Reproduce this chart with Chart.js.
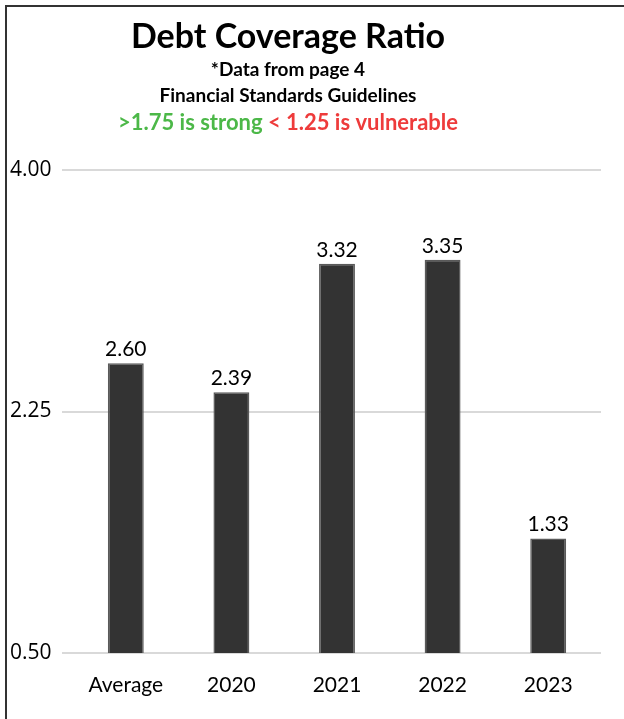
<!DOCTYPE html>
<html>
<head>
<meta charset="utf-8">
<script src="https://cdn.jsdelivr.net/npm/chart.js@4"></script>
<style>
  html, body { margin: 0; padding: 0; background: #fff; }
  #wrap { width: 624px; height: 719px; position: relative; }
</style>
</head>
<body>
<div id="wrap"><canvas id="c" width="624" height="719"></canvas></div>
<script>
// Debt coverage ratio by period
const categories = ['Average', '2020', '2021', '2022', '2023'];
const ratios = [2.60, 2.39, 3.32, 3.35, 1.33];
const tickValues = [0.50, 2.25, 4.00];

const titleText = 'Debt Coverage Ratio';
const subLines = ['*Data from page 4', 'Financial Standards Guidelines'];
const strongText = '>1.75 is strong';
const weakText = '< 1.25 is vulnerable';

const FONT = 'Lato, "Open Sans", sans-serif';

// Frame, heading block and value labels
const decor = {
  id: 'decor',
  afterDraw(chart) {
    const ctx = chart.ctx;
    ctx.save();
    // frame line (top and left edges)
    ctx.strokeStyle = '#333';
    ctx.lineWidth = 2;
    ctx.beginPath();
    ctx.moveTo(630, 6);
    ctx.lineTo(6, 6);
    ctx.lineTo(6, 730);
    ctx.stroke();

    const cx = 288;
    ctx.textAlign = 'center';
    ctx.textBaseline = 'middle';
    ctx.fillStyle = '#000';
    ctx.font = 'bold 34px ' + FONT;
    ctx.fillText(titleText, cx, 37);
    ctx.font = 'bold 19px ' + FONT;
    ctx.fillText(subLines[0], cx, 70);
    ctx.fillText(subLines[1], cx, 96);

    ctx.font = 'bold 22px ' + FONT;
    const gap = ctx.measureText(' ').width;
    const w1 = ctx.measureText(strongText).width;
    const w2 = ctx.measureText(weakText).width;
    const start = cx - (w1 + gap + w2) / 2;
    ctx.textAlign = 'left';
    ctx.fillStyle = '#4CB848';
    ctx.fillText(strongText, start, 123);
    ctx.fillStyle = '#EE3B3B';
    ctx.fillText(weakText, start + w1 + gap, 123);

    // value labels above bars
    const meta = chart.getDatasetMeta(0);
    ctx.textAlign = 'center';
    ctx.textBaseline = 'alphabetic';
    ctx.fillStyle = '#000';
    ctx.font = '21px ' + FONT;
    meta.data.forEach((bar, i) => {
      ctx.fillText(ratios[i].toFixed(2), bar.x, bar.y - 7);
    });
    ctx.restore();
  }
};

new Chart(document.getElementById('c'), {
  type: 'bar',
  data: {
    labels: categories,
    datasets: [{
      data: ratios,
      backgroundColor: '#333333',
      borderColor: '#5a5a5a',
      borderWidth: 1.5,
      barPercentage: 0.34,
      categoryPercentage: 1.0
    }]
  },
  options: {
    responsive: false,
    animation: false,
    layout: { padding: { top: 170, left: 10, right: 23, bottom: 0 } },
    plugins: {
      legend: { display: false },
      tooltip: { enabled: false },
      title: { display: false }
    },
    scales: {
      x: {
        grid: { display: false, drawTicks: false },
        border: { display: false },
        ticks: { color: '#000', font: { family: FONT, size: 21 }, padding: 20 },
        afterFit(scale) { scale.height = 66; }
      },
      y: {
        min: 0.5,
        max: 4.0,
        afterBuildTicks(scale) { scale.ticks = tickValues.map(v => ({ value: v })); },
        grid: { color: '#d9d9d9', lineWidth: 2, tickLength: 11, tickColor: '#d9d9d9' },
        border: { display: false },
        ticks: {
          color: '#000',
          font: { family: '"Open Sans", sans-serif', size: 21 },
          crossAlign: 'far',
          padding: 12,
          callback: v => Number(v).toFixed(2)
        },
        afterFit(scale) { scale.width = 63; }
      }
    }
  },
  plugins: [decor]
});
</script>
</body>
</html>
